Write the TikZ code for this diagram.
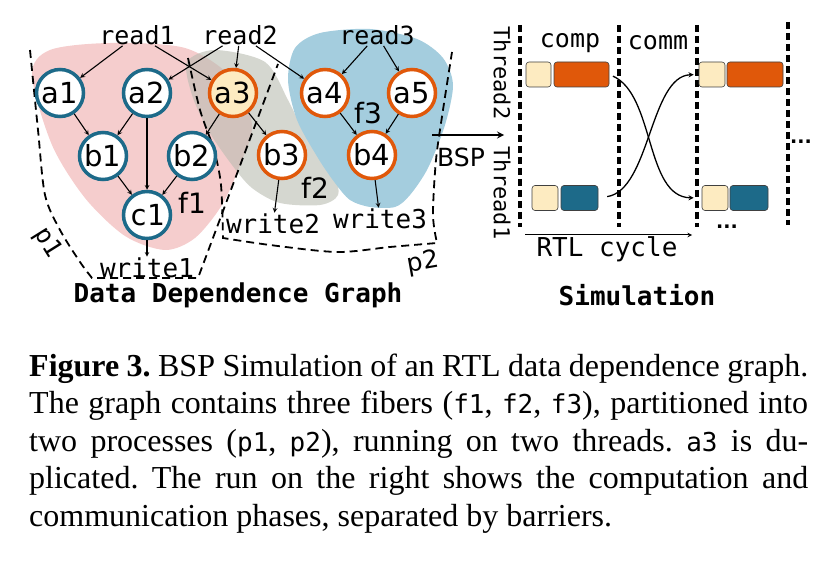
\documentclass[tikz,border=0pt]{standalone}
\usepackage{fontspec}
\setmainfont{Liberation Serif}
\newfontfamily\sansfam{DejaVu Sans}
\newfontfamily\monofam{DejaVu Sans Mono}
\usepackage{tikz}
\usetikzlibrary{positioning}
\usetikzlibrary{calc}
\definecolor{fibblue}{RGB}{29,106,137}
\definecolor{fiborange}{RGB}{224,88,10}
\definecolor{cream}{RGB}{253,235,193}
\definecolor{pinkfib}{RGB}{245,205,205}
\definecolor{grayfib}{RGB}{185,188,177}
\definecolor{bluefib}{RGB}{164,205,222}
\tikzset{
    ddg/.style={
            x=1pt,y=-1pt,
            op/.style={circle,draw,line width=3.5pt,minimum size=47pt,inner sep=0pt,fill=white,
                    font=\sansfam\fontsize{29}{29}\selectfont},
            pone/.style={op,draw=fibblue},
            ptwo/.style={op,draw=fiborange},
            io/.style={inner sep=1pt,font=\monofam\fontsize{25}{25}\selectfont},
            fib/.style={inner sep=0pt,font=\sansfam\fontsize{28}{28}\selectfont},
            dep/.style={-stealth,line width=1.1pt},
            part/.style={line width=1.8pt,dash pattern=on 8pt off 5pt},
            barrier/.style={line width=4pt,dash pattern=on 7pt off 4pt},
            work/.style={draw=black!75,line width=0.6pt,rounded corners=3pt,inner sep=0pt,minimum height=25pt},
            capline/.style={anchor=base west,inner sep=0pt,font=\fontsize{32}{38}\selectfont}
        }
    }
\newcommand{\capcode}[1]{{\monofam\fontsize{26}{26}\selectfont #1}}
\newcommand{\boldmono}{\monofam\bfseries\fontsize{26}{26}\selectfont}

\begin{document}
\frenchspacing
\begin{tikzpicture}[ddg]
    \useasboundingbox (0,0) rectangle (823,575);
    \fill[pinkfib] plot[smooth cycle] coordinates {(32,75) (50,50) (110,43) (185,48) (232,78) (252,125) (240,165) (222,205) (195,238) (165,250) (125,236) (85,198) (52,145)};
    \fill[grayfib,fill opacity=0.6] plot[smooth cycle] coordinates {(187,62) (215,50) (265,62) (288,100) (308,140) (333,172) (338,195) (320,205) (280,203) (252,188) (232,165) (208,130) (192,95)};
    \fill[bluefib] plot[smooth cycle] coordinates {(295,48) (320,33) (370,29) (417,39) (443,58) (453,85) (445,125) (428,168) (410,195) (395,207) (370,207) (350,200) (335,183) (318,158) (297,120) (288,80)};
    \draw[part] plot[smooth] coordinates {(30,50) (38,130) (45,195) (60,230) (80,262) (92,278)} -- (198,278) -- (278,64);
    \draw[part] plot[smooth] coordinates {(188,58) (200,110) (214,150) (221,185) (223,238)}
        -- plot[smooth] coordinates {(223,238) (270,245) (337,252) (390,247) (437,243)}
        -- plot[smooth] coordinates {(437,243) (433,215) (436,160) (443,110) (452,52)};

    \node[io] (read1) at (137,35) {read1};
    \node[io] (read2) at (240,35) {read2};
    \node[io] (read3) at (377,35) {read3};
    \node[pone] (a1) at (60,93) {a1};
    \node[pone] (a2) at (147,93) {a2};
    \node[ptwo,fill=cream] (a3) at (233,93) {a3};
    \node[ptwo] (a4) at (325,93) {a4};
    \node[ptwo] (a5) at (412,93) {a5};
    \node[pone] (b1) at (103,156) {b1};
    \node[pone] (b2) at (192,156) {b2};
    \node[ptwo] (b3) at (282,155) {b3};
    \node[ptwo] (b4) at (372,155) {b4};
    \node[pone,font=\monofam\fontsize{29}{29}\selectfont] (c1) at (147,215) {c1};
    \node[io,font=\monofam\fontsize{26}{26}\selectfont] (write1) at (147,268) {write1};
    \node[io,font=\monofam\fontsize{26}{26}\selectfont] (write2) at (273,224) {write2};
    \node[io,font=\monofam\fontsize{26}{26}\selectfont] (write3) at (380,219) {write3};
    \node[fib] (f1) at (192,203) {f1};
    \node[fib] (f2) at (315,188) {f2};
    \node[fib] (f3) at (368,113) {f3};
    \node[io,inner sep=0pt,rotate=-58] (p1) at (47,243) {p1};
    \node[fib,rotate=10,font=\sansfam\fontsize{25}{25}\selectfont] (p2) at (423,263) {p2};

    \draw[dep] (read1) -- (a1);
    \draw[dep] (read1) -- (a3);
    \draw[dep] (read2) -- (a2);
    \draw[dep] (read2) -- (a3);
    \draw[dep] (read2) -- (a4);
    \draw[dep] (read3) -- (a4);
    \draw[dep] (read3) -- (a5);
    \draw[dep] (a1) -- (b1);
    \draw[dep] (a2) -- (b1);
    \draw[dep] (a2) -- (c1);
    \draw[dep] (a3) -- (b2);
    \draw[dep] (a3) -- (b3);
    \draw[dep] (b1) -- (c1);
    \draw[dep] (b2) -- (c1);
    \draw[dep] (a4) -- (b4);
    \draw[dep] (a5) -- (b4);
    \draw[dep] (c1) -- (write1);
    \draw[dep] (b3) -- (write2);
    \draw[dep] (b4) -- (write3);

    \node[font=\boldmono] (ddglabel) at (238,295) {Data Dependence Graph};

    \coordinate (bspfrom) at (432,135);
    \coordinate (bspto) at (504,135);
    \draw[-stealth,line width=2pt] (bspfrom) -- (bspto);
    \node[fib,font=\sansfam\fontsize{25}{25}\selectfont] (bsp) at (461,157) {BSP};

    \draw[barrier] (520,25) -- (520,227);
    \draw[barrier] (619,25) -- (619,227);
    \draw[barrier] (697,25) -- (697,227);
    \draw[barrier] (788,22) -- (788,225);
    \node[io,rotate=-90,font=\monofam\fontsize{22}{22}\selectfont] (thread2) at (502,73) {Thread2};
    \node[io,rotate=-90,font=\monofam\fontsize{22}{22}\selectfont] (thread1) at (502,193) {Thread1};
    \node[io] (comp) at (570,43) {comp};
    \node[io] (comm) at (658,43) {comm};

    \node[work,fill=cream,minimum width=25pt] (crA) at (538.5,74.5) {};
    \node[work,fill=fiborange,minimum width=55pt] (orA) at (581.5,74.5) {};
    \node[work,fill=cream,minimum width=26pt] (crB) at (545,198) {};
    \node[work,fill=fibblue,minimum width=37pt] (blB) at (579.5,198) {};
    \node[work,fill=cream,minimum width=26pt] (crC) at (712,74.5) {};
    \node[work,fill=fiborange,minimum width=56pt] (orC) at (755,74.5) {};
    \node[work,fill=cream,minimum width=26pt] (crD) at (715,198) {};
    \node[work,fill=fibblue,minimum width=38pt] (blD) at (749,198) {};

    \draw[-stealth,line width=1.3pt,shorten <=4pt,shorten >=8pt] (orA.east) .. controls (655,95) and (645,197) .. (crD.west);
    \draw[-stealth,line width=1.3pt,shorten <=9pt,shorten >=5pt] (blB.east) .. controls (650,190) and (650,76) .. (crC.west);

    \node[font=\sansfam\bfseries\fontsize{19}{19}\selectfont,anchor=base] (moreA) at (801,144) {...};
    \node[font=\sansfam\bfseries\fontsize{19}{19}\selectfont,anchor=base] (moreB) at (727,229) {...};

    \coordinate (rtlfrom) at (525,235);
    \coordinate (rtlto) at (692,235);
    \draw[-stealth,line width=1pt] (rtlfrom) -- (rtlto);
    \node[io,font=\monofam\fontsize{26}{26}\selectfont] (rtl) at (607,249) {RTL cycle};
    \node[font=\boldmono] (simlabel) at (637,295) {Simulation};

    \node[capline] (cap1) at (29,376) {\makebox[779pt][s]{\textbf{Figure 3.} BSP Simulation of an RTL data dependence graph.}};
    \node[capline] (cap2) at (29,413.5) {\makebox[779pt][s]{The graph contains three fibers (\capcode{f1}, \capcode{f2}, \capcode{f3}), partitioned into}};
    \node[capline] (cap3) at (29,451) {\makebox[779pt][s]{two processes (\capcode{p1}, \capcode{p2}), running on two threads. \capcode{a3} is du-}};
    \node[capline] (cap4) at (29,488.5) {\makebox[779pt][s]{plicated. The run on the right shows the computation and}};
    \node[capline] (cap5) at (29,526) {communication phases, separated by barriers.};
\end{tikzpicture}
\end{document}
